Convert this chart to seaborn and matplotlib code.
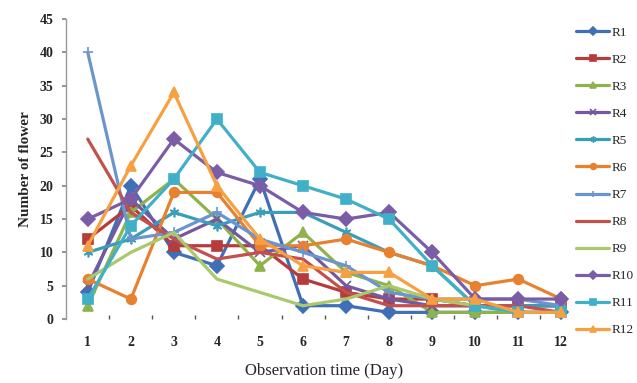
import numpy as np
import pandas as pd
import matplotlib
matplotlib.use("Agg")
import matplotlib.pyplot as plt
import seaborn as sns

# dias de observação
days = list(range(1, 13))

# número de flores por repetição
R1 = [4, 20, 10, 8, 21, 2, 2, 1, 1, 1, 1, 1]
R2 = [12, 17, 11, 11, 11, 6, 4, 3, 3, 2, 2, 2]
R3 = [2, 16, 21, 15, 8, 13, 7, 5, 1, 1, 1, 1]
R4 = [5, 18, 12, 15, 10, 11, 5, 3, 2, 2, 2, 2]
R5 = [10, 12, 16, 14, 16, 16, 13, 10, 8, 2, 2, 2]
R6 = [6, 3, 19, 19, 11, 11, 12, 10, 8, 5, 6, 3]
R7 = [40, 12, 13, 16, 12, 10, 8, 4, 3, 3, 3, 2]
R8 = [27, 16, 12, 9, 10, 9, 4, 2, 2, 2, 2, 1]
R9 = [6, 10, 13, 6, 4, 2, 3, 5, 3, 2, 1, 1]
R10 = [15, 18, 27, 22, 20, 16, 15, 16, 10, 3, 3, 3]
R11 = [3, 14, 21, 30, 22, 20, 18, 15, 8, 2, 1, 1]
R12 = [11, 23, 34, 20, 12, 8, 7, 7, 3, 3, 1, 1]

nomes = ["R1", "R2", "R3", "R4", "R5", "R6", "R7", "R8", "R9", "R10", "R11", "R12"]
series = [R1, R2, R3, R4, R5, R6, R7, R8, R9, R10, R11, R12]

cores = ["#3f6fb6", "#b53c3a", "#8fb24c", "#7458a0", "#3a9dba", "#e8812f",
         "#6b95cf", "#c4504e", "#a9c96b", "#7b5ca6", "#40b0c8", "#f7a042"]
marcadores = ["D", "s", "^", "x", (6, 2, 0), "o", "+", None, None, "D", "s", "^"]

df = pd.DataFrame({"Day": days})
for nome, vals in zip(nomes, series):
    df[nome] = vals

sns.set_theme(style="white")
plt.rcParams["font.family"] = ["Liberation Serif", "DejaVu Serif"]

fig = plt.figure(figsize=(6.37, 3.83), dpi=100)
ax = fig.add_axes([0.104, 0.167, 0.811, 0.783])

for nome, cor, mk in zip(nomes, cores, marcadores):
    sns.lineplot(data=df, x="Day", y=nome, ax=ax, color=cor, marker=mk,
                 markersize=7, linewidth=2.3, label=nome,
                 markeredgecolor=cor, markeredgewidth=1.2)

ax.set_xlim(0.5, 12.5)
ax.set_ylim(0, 45)
ax.set_xticks(days)
ax.set_xticks(np.arange(1.5, 12, 1), minor=True)
ax.set_yticks(range(0, 46, 5))
ax.tick_params(axis="x", which="major", length=0, pad=12, labelsize=10)
ax.tick_params(axis="x", which="minor", length=3, direction="in", color="#555555", bottom=True)
ax.tick_params(axis="y", length=3, direction="out", color="#888888", left=True, labelsize=10, pad=6)
for lbl in ax.get_xticklabels() + ax.get_yticklabels():
    lbl.set_fontweight("bold")

for lado in ["top", "right", "bottom"]:
    ax.spines[lado].set_visible(False)
ax.spines["left"].set_color("#999999")
ax.spines["left"].set_linewidth(1.0)

ax.set_xlabel("Observation time (Day)", fontsize=12, labelpad=10)
ax.set_ylabel("Number of flower", fontsize=11, fontweight="bold", labelpad=6)

handles, labels = ax.get_legend_handles_labels()
ax.get_legend().remove()
fig.legend(handles, labels, loc="upper left", bbox_to_anchor=(0.905, 0.93),
           frameon=False, fontsize=9.5, handlelength=2.5, handletextpad=0.15,
           labelspacing=1.12, markerscale=0.6, borderaxespad=0, borderpad=0)

fig.savefig("out.png", dpi=100)
